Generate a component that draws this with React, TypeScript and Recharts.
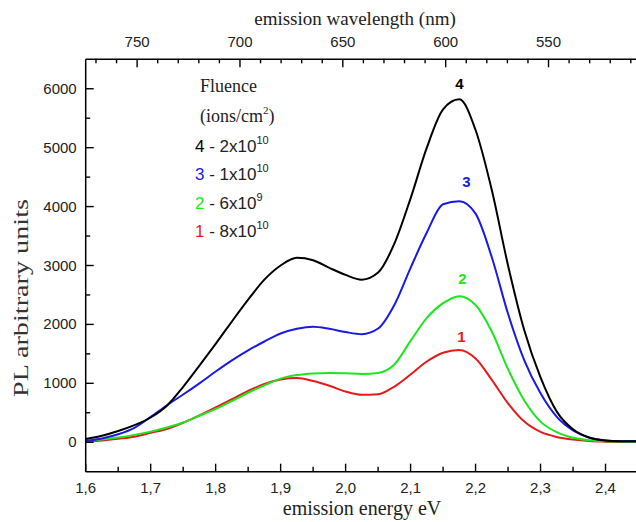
import { Line, LineChart, XAxis, YAxis } from "recharts"

// photon energy (eV) sampled every 0.025
const energy = [
    1.6, 1.625, 1.65, 1.675, 1.7, 1.725, 1.75, 1.775, 1.8, 1.825, 1.85, 1.875,
    1.9, 1.925, 1.95, 1.975, 2.0, 2.025, 2.05, 2.075, 2.1, 2.125, 2.15, 2.175,
    2.2, 2.225, 2.25, 2.275, 2.3, 2.325, 2.35, 2.375, 2.4, 2.425, 2.45,
]

// 4 - 2x10^10
const curve4 = [
    55, 110, 190, 290, 420, 620, 940, 1300, 1670, 2050, 2420, 2760,
    3000, 3130, 3090, 2960, 2840, 2760, 2880, 3370, 4140, 5000, 5650, 5820,
    5300, 4280, 3000, 1900, 1100, 520, 220, 80, 30, 18, 15,
]
// 3 - 1x10^10
const curve3 = [
    25, 65, 135, 245, 430, 628, 810, 1000, 1200, 1390, 1560, 1710,
    1845, 1925, 1960, 1925, 1870, 1835, 1930, 2330, 2960, 3560, 4040, 4090,
    3880, 3140, 2180, 1390, 830, 430, 200, 75, 30, 18, 15,
]
// 2 - 6x10^9
const curve2 = [
    20, 45, 80, 125, 180, 250, 335, 450, 565, 700, 840, 965,
    1080, 1140, 1168, 1177, 1172, 1160, 1177, 1320, 1720, 2110, 2360, 2480,
    2330, 1880, 1240, 710, 350, 170, 75, 35, 15, 10, 8,
]
// 1 - 8x10^10
const curve1 = [
    10, 30, 60, 95, 160, 225, 330, 455, 590, 730, 870, 990,
    1065, 1090, 1040, 960, 860, 805, 815, 945, 1150, 1370, 1520, 1565,
    1420, 1060, 660, 350, 175, 90, 45, 20, 10, 5, 5,
]

const energyTicks = [1.6, 1.7, 1.8, 1.9, 2.0, 2.1, 2.2, 2.3, 2.4]
const energyMinor = [1.65, 1.75, 1.85, 1.95, 2.05, 2.15, 2.25, 2.35]
const wavelengthTicks = [750, 700, 650, 600, 550]
const wavelengthMinor = [
    770, 760, 740, 730, 720, 710, 690, 680, 670, 660, 640, 630, 620, 610,
    590, 580, 570, 560, 540, 530, 520, 510,
]
const plTicks = [0, 1000, 2000, 3000, 4000, 5000, 6000]
const plMinor = [500, 1500, 2500, 3500, 4500, 5500]

const legendRows = [
    { num: "4", rest: " - 2x10", exp: "10", color: "#000000" },
    { num: "3", rest: " - 1x10", exp: "10", color: "#1a1ae6" },
    { num: "2", rest: " - 6x10", exp: "9", color: "#1ee61e" },
    { num: "1", rest: " - 8x10", exp: "10", color: "#e61a1a" },
]

const data = energy.map((e, i) => ({
    e,
    c4: curve4[i],
    c3: curve3[i],
    c2: curve2[i],
    c1: curve1[i],
}))

const E_MIN = 1.6
const E_MAX = 2.45
// the top scale in the original is drawn linear in nm across the frame
const NM_LEFT = 775
const NM_RIGHT = 506.5
const nmToE = (nm: number) => E_MIN + (NM_LEFT - nm) / (NM_LEFT - NM_RIGHT) * (E_MAX - E_MIN)
const eToNm = (e: number) => NM_LEFT - (e - E_MIN) / (E_MAX - E_MIN) * (NM_LEFT - NM_RIGHT)

const SANS = "'Liberation Sans', Arial, sans-serif"
const SERIF = "'Liberation Serif', 'Times New Roman', serif"

const isMajor = (v: number, majors: number[]) => majors.some(m => Math.abs(m - v) < 1e-6)

function BottomTick(props: any) {
    const { x, y, payload } = props
    const major = isMajor(payload.value, energyTicks)
    return (
        <g>
            <line x1={x} y1={y} x2={x} y2={y - (major ? 8 : 5)} stroke="#000" strokeWidth={1.4} />
            {major && (
                <text x={x} y={y + 21.5} textAnchor="middle" fontFamily={SANS} fontSize={15} fill="#222">
                    {payload.value.toFixed(1).replace(".", ",")}
                </text>
            )}
        </g>
    )
}

function TopTick(props: any) {
    const { x, y, payload } = props
    const nm = Math.round(eToNm(payload.value))
    const major = wavelengthTicks.includes(nm)
    return (
        <g>
            <line x1={x} y1={y} x2={x} y2={y + (major ? 8 : 4)} stroke="#000" strokeWidth={1.4} />
            {major && (
                <text x={x} y={y - 12.5} textAnchor="middle" fontFamily={SANS} fontSize={15} fill="#222">
                    {nm}
                </text>
            )}
        </g>
    )
}

function LeftTick(props: any) {
    const { x, y, payload } = props
    const major = isMajor(payload.value, plTicks)
    return (
        <g>
            <line x1={x} y1={y} x2={x + (major ? 8 : 4.5)} y2={y} stroke="#000" strokeWidth={1.4} />
            {major && (
                <text x={x - 9} y={y + 5} textAnchor="end" fontFamily={SANS} fontSize={15} fill="#222">
                    {payload.value}
                </text>
            )}
        </g>
    )
}

const argmax = (arr: number[]) => arr.indexOf(Math.max(...arr))

// number written just above the peak of each curve
const peakMark = (text: string, color: string, peak: number, dx: number, dy: number) => (p: any) => {
    if (p.index !== peak) return <g key={`d-${p.index}`} />
    return (
        <text key={`d-${p.index}`} x={p.cx + dx} y={p.cy + dy} textAnchor="middle"
            fontFamily={SANS} fontWeight="bold" fontSize={15} fill={color}>
            {text}
        </text>
    )
}

export default function App() {
    return (
        <div style={{ position: "fixed", left: 0, top: 0, width: 636, height: 522, overflow: "hidden", background: "#fff" }}>
            <LineChart
                width={650}
                height={522}
                data={data}
                margin={{ top: 19.3, right: 12, bottom: 10.3, left: 25.7 }}
            >
                <XAxis
                    xAxisId="bottom"
                    dataKey="e"
                    type="number"
                    domain={[E_MIN, E_MAX]}
                    allowDataOverflow
                    ticks={[...energyTicks, ...energyMinor]}
                    interval={0}
                    tickSize={0}
                    tickMargin={0}
                    tickLine={false}
                    height={40}
                    axisLine={{ stroke: "#000", strokeWidth: 1.5 }}
                    tick={<BottomTick />}
                />
                <XAxis
                    xAxisId="top"
                    orientation="top"
                    dataKey="e"
                    type="number"
                    domain={[E_MIN, E_MAX]}
                    allowDataOverflow
                    ticks={[...wavelengthTicks, ...wavelengthMinor].map(nmToE)}
                    interval={0}
                    tickSize={0}
                    tickMargin={0}
                    tickLine={false}
                    height={40}
                    axisLine={{ stroke: "#000", strokeWidth: 1.5 }}
                    tick={<TopTick />}
                />
                <YAxis
                    type="number"
                    domain={[-500, 6500]}
                    allowDataOverflow
                    ticks={[...plTicks, ...plMinor]}
                    interval={0}
                    tickSize={0}
                    tickMargin={0}
                    tickLine={false}
                    width={60}
                    axisLine={{ stroke: "#000", strokeWidth: 1.5 }}
                    tick={<LeftTick />}
                />
                <Line xAxisId="bottom" type="monotone" dataKey="c1" stroke="#e61a1a" strokeWidth={2}
                    dot={peakMark("1", "#e61a1a", argmax(curve1), 2, -8)} activeDot={false} isAnimationActive={false} />
                <Line xAxisId="bottom" type="monotone" dataKey="c2" stroke="#1ee61e" strokeWidth={2}
                    dot={peakMark("2", "#1ee61e", argmax(curve2), 3, -12)} activeDot={false} isAnimationActive={false} />
                <Line xAxisId="bottom" type="monotone" dataKey="c3" stroke="#1a1ae6" strokeWidth={2}
                    dot={peakMark("3", "#1a1ae6", argmax(curve3), 7, -14)} activeDot={false} isAnimationActive={false} />
                <Line xAxisId="bottom" type="monotone" dataKey="c4" stroke="#000000" strokeWidth={2}
                    dot={peakMark("4", "#000000", argmax(curve4), 0, -10)} activeDot={false} isAnimationActive={false} />
            </LineChart>
            <svg width={636} height={522} style={{ position: "absolute", left: 0, top: 0, pointerEvents: "none" }}>
                <text x={355} y={25} textAnchor="middle" fontFamily={SERIF} fontSize={19} fill="#222">
                    emission wavelength (nm)
                </text>
                <text x={362} y={515} textAnchor="middle" fontFamily={SERIF} fontSize={20} fill="#222">
                    emission energy eV
                </text>
                <text x={28} y={298} textAnchor="middle" fontFamily={SERIF} fontSize={20} fill="#333"
                    transform="rotate(-90 28 298)" textLength={198} lengthAdjust="spacingAndGlyphs">
                    PL arbitrary units
                </text>
                <text x={200} y={92} fontFamily={SERIF} fontSize={18} fill="#222">Fluence</text>
                <text x={200} y={122} fontFamily={SERIF} fontSize={18} fill="#222">
                    (ions/cm<tspan fontSize={11} dy={-8}>2</tspan><tspan dy={8}>)</tspan>
                </text>
                {legendRows.map((r, i) => (
                    <text key={r.num} x={195} y={152 + i * 28.4} fontFamily={SANS} fontSize={17} fill="#222">
                        <tspan fill={r.color}>{r.num}</tspan>
                        {r.rest}
                        <tspan fontSize={11} dy={-8}>{r.exp}</tspan>
                    </text>
                ))}
            </svg>
        </div>
    )
}
